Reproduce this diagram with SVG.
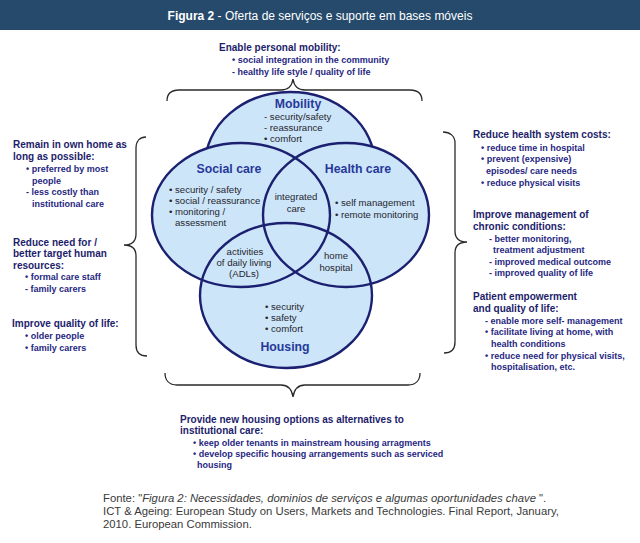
<svg xmlns="http://www.w3.org/2000/svg" width="640" height="543" viewBox="0 0 640 543">
<style>
text{font-family:"Liberation Sans",Arial,sans-serif}
.hd{font-size:10px;font-weight:bold;fill:#1d1d6b}
.it{font-size:9px;font-weight:bold;fill:#27277f}
.ct{font-size:12.3px;font-weight:bold;fill:#26399a;text-anchor:middle}
.ci{font-size:9.6px;fill:#262630}
.cm{font-size:9.6px;fill:#262630;text-anchor:middle}
.fill{fill:#cde5f8;stroke:none}
.ring{fill:none;stroke:#1b2070;stroke-width:2.4}
.brace{fill:none;stroke:#2a2a2a;stroke-width:1.3}
.ft{font-size:11.3px;fill:#3a3a3a}
</style>
<rect width="640" height="543" fill="#ffffff"/>
<g id="header">
<rect x="0" y="0" width="640" height="30" fill="#254a6b"/>
<text x="320" y="20" text-anchor="middle" style="font-size:12px;fill:#ffffff"><tspan font-weight="bold">Figura 2</tspan> - Oferta de serviços e suporte em bases móveis</text>
</g>
<g id="mobility">
<ellipse cx="290" cy="165" rx="85" ry="73" fill="#cde5f8" stroke="#1b2070" stroke-width="2.4"/>
<text class="ct" x="298" y="108">Mobility</text>
<text class="ci" x="264" y="120">- security/safety</text>
<text class="ci" x="264" y="131">- reassurance</text>
<text class="ci" x="264" y="142">• comfort</text>
</g>
<g id="venn-fills">
<ellipse class="fill" cx="241" cy="215" rx="89" ry="72"/>
<ellipse class="fill" cx="346" cy="215" rx="83" ry="72"/>
<ellipse class="fill" cx="286" cy="295.5" rx="86" ry="72.5"/>
</g>
<g id="social-care">
<ellipse class="ring" cx="241" cy="215" rx="89" ry="72"/>
<text class="ct" x="229" y="173">Social care</text>
<text class="ci" x="169" y="193">• security / safety</text>
<text class="ci" x="169" y="204">• social / reassurance</text>
<text class="ci" x="169" y="215">• monitoring /</text>
<text class="ci" x="175" y="226">assessment</text>
</g>
<g id="health-care">
<ellipse class="ring" cx="346" cy="215" rx="83" ry="72"/>
<text class="ct" x="358" y="173">Health care</text>
<text class="ci" x="335" y="206">• self management</text>
<text class="ci" x="335" y="218">• remote monitoring</text>
</g>
<g id="housing">
<ellipse class="ring" cx="286" cy="295.5" rx="86" ry="72.5"/>
<text class="ci" x="265" y="310">• security</text>
<text class="ci" x="265" y="321">• safety</text>
<text class="ci" x="265" y="332">• comfort</text>
<text class="ct" x="285" y="351">Housing</text>
</g>
<g id="integrated-care">
<text class="cm" x="296" y="200">integrated</text>
<text class="cm" x="296" y="212">care</text>
</g>
<g id="adls">
<text class="cm" x="245" y="255">activities</text>
<text class="cm" x="244" y="266">of daily living</text>
<text class="cm" x="244" y="277">(ADLs)</text>
</g>
<g id="home-hospital">
<text class="cm" x="336" y="259">home</text>
<text class="cm" x="336" y="271">hospital</text>
</g>
<g id="connectors">
<path class="brace" d="M167,101 C167,94 171,90 179,90 L281,90 C288,90 292,86 293,79 C294,86 298,90 305,90 L410,90 C418,90 422,94 422,101"/>
<path class="brace" d="M165,373 C165,380 169,385 177,385 L281,385 C288,385 292,390 293,397 C294,390 298,385 305,385 L408,385 C416,385 420,380 420,373"/>
<path class="brace" d="M146,137 C140,137 136,141 136,148 L136,234 C136,241 132,245 124,245 C132,245 136,249 136,256 L136,345 C136,352 140,356 147,356"/>
<path class="brace" d="M443,132 C450,132 455,136 455,143 L455,231 C455,238 459,242 467,242 C459,242 455,246 455,253 L455,342 C455,349 451,353 444,353"/>
</g>
<g id="mobility-benefits">
<text class="hd" x="219" y="51">Enable personal mobility:</text>
<text class="it" x="232" y="63">• social integration in the community</text>
<text class="it" x="232" y="75">- healthy life style / quality of life</text>
</g>
<g id="left-benefits">
<text class="hd" x="13" y="148">Remain in own home as</text>
<text class="hd" x="13" y="160">long as possible:</text>
<text class="it" x="26" y="172">• preferred by most</text>
<text class="it" x="32" y="184">people</text>
<text class="it" x="26" y="195">- less costly than</text>
<text class="it" x="32" y="207">institutional care</text>
<text class="hd" x="13" y="246">Reduce need for /</text>
<text class="hd" x="13" y="257">better target human</text>
<text class="hd" x="13" y="269">resources:</text>
<text class="it" x="25" y="280">• formal care staff</text>
<text class="it" x="25" y="292">- family carers</text>
<text class="hd" x="12" y="327">Improve quality of life:</text>
<text class="it" x="25" y="339">• older people</text>
<text class="it" x="25" y="351">• family carers</text>
</g>
<g id="right-benefits">
<text class="hd" x="473" y="138">Reduce health system costs:</text>
<text class="it" x="481" y="151">• reduce time in hospital</text>
<text class="it" x="481" y="162">• prevent (expensive)</text>
<text class="it" x="486" y="174">episodes/ care needs</text>
<text class="it" x="481" y="186">• reduce physical visits</text>
<text class="hd" x="473" y="218">Improve management of</text>
<text class="hd" x="473" y="230">chronic conditions:</text>
<text class="it" x="489" y="242">- better monitoring,</text>
<text class="it" x="493" y="253">treatment adjustment</text>
<text class="it" x="489" y="265">- improved medical outcome</text>
<text class="it" x="489" y="276">- improved quality of life</text>
<text class="hd" x="473" y="300">Patient empowerment</text>
<text class="hd" x="473" y="312">and quality of life:</text>
<text class="it" x="485" y="324">- enable more self- management</text>
<text class="it" x="485" y="335">• facilitate living at home, with</text>
<text class="it" x="491" y="347">health conditions</text>
<text class="it" x="485" y="359">• reduce need for physical  visits,</text>
<text class="it" x="491" y="370">hospitalisation, etc.</text>
</g>
<g id="housing-benefits">
<text class="hd" x="180" y="423">Provide new housing options as alternatives to</text>
<text class="hd" x="180" y="434">institutional care:</text>
<text class="it" x="193" y="446">• keep older tenants in mainstream housing arragments</text>
<text class="it" x="193" y="457">• develop specific housing arrangements such as serviced</text>
<text class="it" x="197" y="468">housing</text>
</g>
<g id="footer">
<text class="ft" x="103" y="502">Fonte: "<tspan font-style="italic">Figura 2: Necessidades, dominios de serviços e algumas oportunidades chave</tspan> ".</text>
<text class="ft" x="103" y="515">ICT &amp; Ageing: European Study on Users, Markets and Technologies. Final Report, January,</text>
<text class="ft" x="103" y="528">2010. European Commission.</text>
</g>
</svg>
